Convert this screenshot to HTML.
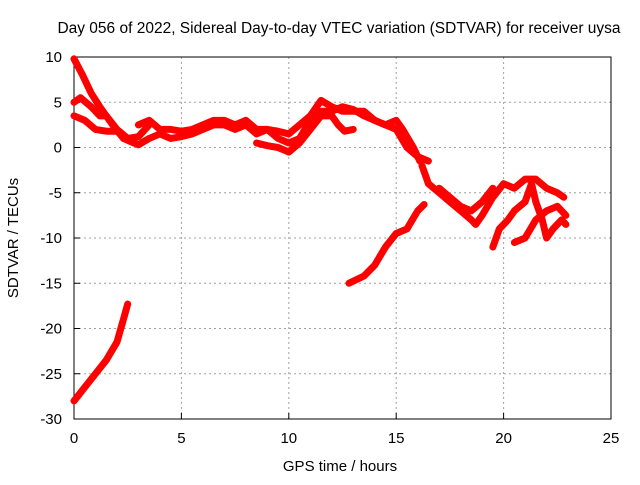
<!DOCTYPE html>
<html><head><meta charset="utf-8"><style>
body{margin:0;background:#fff;}
text{font-family:"Liberation Sans",sans-serif;font-size:15px;fill:#000;}
</style></head><body>
<svg width="640" height="480">
<text x="339" y="33" text-anchor="middle" style="font-size:15.5px">Day 056 of 2022, Sidereal Day-to-day VTEC variation (SDTVAR) for receiver uysa</text>
<g id="grid"></g>
<rect x="74" y="57" width="537" height="362" fill="none" stroke="#000"/>
<g id="axes"></g>
<g id="series"></g>
<text x="340" y="471" text-anchor="middle">GPS time / hours</text>
<text transform="translate(18,238) rotate(-90)" text-anchor="middle">SDTVAR / TECUs</text>
</svg>
<script>
const xTicks=[0,5,10,15,20,25];
const yTicks=[10,5,0,-5,-10,-15,-20,-25,-30];
const s1=[[0,9.8],[0.4,8],[0.8,6],[1.2,4.5],[1.8,2.5],[2.3,1],[2.8,0.5]];
const s2=[[0,5],[0.3,5.5],[0.8,4.5],[1.2,3.5],[1.5,3.5],[2,2],[2.5,1],[3,1.2],[3.5,2.5]];
const s3=[[0,3.5],[0.5,3],[1,2],[1.5,1.8],[2,1.8],[2.5,0.8],[3,0.3],[3.5,1],[4,1.5],[4.5,1],[5,1.2],[5.5,1.5],[6,2],[6.5,2.5],[7,2.5],[7.5,2],[8,2.5],[8.5,1.5],[9,2],[9.5,1],[10,0.5]];
const s4=[[3,2.5],[3.5,3],[4,2],[4.5,2],[5,1.8],[5.5,2],[6,2.5],[6.5,3],[7,3],[7.5,2.5],[8,3],[8.5,2],[9,2],[9.5,1.8],[10,1.5],[10.5,2.5],[11,3.5],[11.5,5.2],[12,4.5],[12.5,4],[13,4],[13.5,4],[14,3],[14.5,2.5],[15,2],[15.5,0],[16,-1],[16.5,-1.5]];
const s5=[[8.5,0.5],[9,0.2],[9.5,0],[10,-0.5],[10.5,0.5],[11,2],[11.5,3.5],[12,3.5],[12.3,2.5],[12.6,1.8],[13,2]];
const s6=[[10,0.5],[10.5,1],[11,3],[11.5,4],[12,4],[12.5,4.5],[13,4.2],[13.5,3.5],[14,3],[14.5,2.5],[15,3],[15.3,2],[15.8,0],[16.1,-1.5]];
const s7=[[16.2,-2],[16.5,-4],[17,-5],[17.5,-6],[18,-7],[18.5,-8],[18.7,-8.5],[19,-7.5],[19.5,-5.5],[20,-4],[20.5,-4.5],[21,-3.5],[21.5,-3.5],[22,-4.5],[22.5,-5],[22.8,-5.5]];
const s8=[[17,-4.5],[17.5,-5.5],[18,-6.5],[18.5,-7],[19,-6],[19.5,-4.5]];
const s9=[[19.5,-11],[19.8,-9],[20.2,-8],[20.5,-7],[21,-6],[21.3,-4],[21.5,-6],[21.8,-8],[22,-10],[22.3,-9],[22.7,-8],[22.9,-8.5]];
const s10=[[20.5,-10.5],[21,-10],[21.5,-8],[22,-7],[22.5,-6.5],[22.9,-7.5]];
const s11=[[12.8,-15],[13.5,-14.2],[14,-13],[14.5,-11],[15,-9.5],[15.5,-9],[16,-7],[16.3,-6.3]];
const s12=[[0,-28],[0.5,-26.5],[1,-25],[1.5,-23.5],[2,-21.5],[2.3,-19],[2.5,-17.3]];
const allSeries=[s1,s2,s3,s4,s5,s6,s7,s8,s9,s10,s11,s12];
const NS='http://www.w3.org/2000/svg';
const X=v=>74+v*537/25, Y=v=>57+(10-v)*362/40;
const grid=document.getElementById('grid'),axes=document.getElementById('axes'),ser=document.getElementById('series');
function mk(tag,attrs,parent){const e=document.createElementNS(NS,tag);for(const k in attrs)e.setAttribute(k,attrs[k]);parent.appendChild(e);return e;}
xTicks.forEach(t=>{
  if(t>0&&t<25){const g=mk('line',{x1:X(t),x2:X(t),y1:57,y2:419,stroke:'#a0a0a0','stroke-dasharray':'2,3'},grid);
  
  }
  const tk=mk('line',{x1:X(t),x2:X(t),y1:419,y2:413,stroke:'#000'},axes);
  
  
  const l=mk('text',{x:X(t),y:443,'text-anchor':'middle'},axes);l.textContent=t;
  
  
});
yTicks.forEach(t=>{
  if(t<10&&t>-30){const g=mk('line',{x1:74,x2:611,y1:Y(t),y2:Y(t),stroke:'#a0a0a0','stroke-dasharray':'2,3'},grid);
  
  }
  const tk=mk('line',{x1:74,x2:80,y1:Y(t),y2:Y(t),stroke:'#000'},axes);
  
  
  const l=mk('text',{x:62,y:Y(t)+5,'text-anchor':'end'},axes);l.textContent=t;
  
  
});
allSeries.forEach(s=>{
  const p=mk('polyline',{points:s.map(d=>X(d[0])+','+Y(d[1])).join(' '),fill:'none',stroke:'#ff0000','stroke-width':7,'stroke-linejoin':'round','stroke-linecap':'round'},ser);
  
  
});
</script>
</body></html>
